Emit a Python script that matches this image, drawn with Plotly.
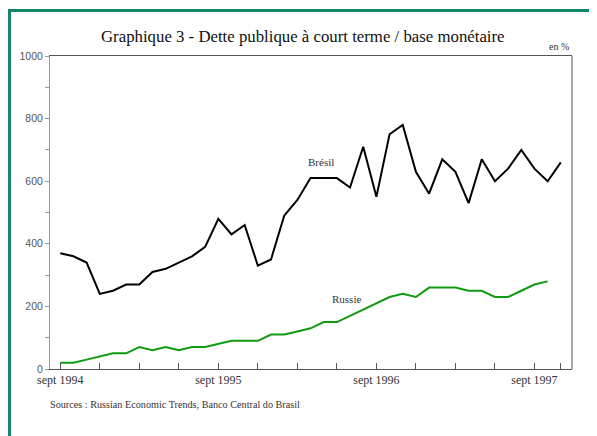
import plotly.graph_objects as go

# Monthly observations, Sep 1994 onward (index 0 = sept 1994)
months_bresil = list(range(39))   # Sep 1994 .. Nov 1997
bresil = [370, 360, 340, 240, 250, 270, 270, 310, 320, 340, 360, 390,
          480, 430, 460, 330, 350, 490, 540, 610, 610, 610, 580, 710,
          550, 750, 780, 630, 560, 670, 630, 530, 670, 600, 640, 700,
          640, 600, 660]
months_russie = list(range(38))   # Sep 1994 .. Oct 1997
russie = [20, 20, 30, 40, 50, 50, 70, 60, 70, 60, 70, 70,
          80, 90, 90, 90, 110, 110, 120, 130, 150, 150, 170, 190,
          210, 230, 240, 230, 260, 260, 260, 250, 250, 230, 230, 250,
          270, 280]

x_tickvals = [0, 3, 6, 9, 12, 15, 18, 21, 24, 27, 30, 33, 36, 38]
x_ticktext = ["sept 1994", "", "", "", "sept 1995", "", "", "", "sept 1996",
              "", "", "", "sept 1997", ""]

title = "Graphique 3 - Dette publique à court terme / base monétaire"
source = "Sources : Russian Economic Trends, Banco Central do Brasil"

OFF = 8  # page body margin
W, H = 597 - OFF, 436 - OFF
L, R, T, B = 50 - OFF, 572 - OFF, 56 - OFF, 369 - OFF


def px(x):
    return (x - OFF - L) / (R - L)


def py(y):
    return (B - (y - OFF)) / (B - T)


fig = go.Figure()
fig.add_trace(go.Scatter(x=months_bresil, y=bresil, mode="lines",
                         line=dict(color="#000000", width=2), name="Brésil",
                         showlegend=False))
fig.add_trace(go.Scatter(x=months_russie, y=russie, mode="lines",
                         line=dict(color="#109a10", width=2), name="Russie",
                         showlegend=False))

serif = "Liberation Serif, Times New Roman, serif"

fig.update_layout(
    width=W, height=H,
    margin=dict(l=L, r=W - R, t=T, b=H - B),
    paper_bgcolor="white", plot_bgcolor="white",
    showlegend=False,
    xaxis=dict(range=[-0.78, 38.85], tickvals=x_tickvals, ticktext=x_ticktext,
               ticks="inside", ticklen=6, tickcolor="#555555", tickwidth=1,
               showline=True, linecolor="#555555", linewidth=1, mirror=True,
               showgrid=False, zeroline=False,
               tickfont=dict(family=serif, size=12, color="#333333")),
    yaxis=dict(range=[0, 1000], dtick=200, ticks="outside", ticklen=4,
               tickcolor="#999999", showline=True, linecolor="#999999",
               linewidth=1, showgrid=False, zeroline=False,
               minor=dict(dtick=100, ticks="outside", ticklen=4,
                          tickcolor="#999999", showgrid=False),
               tickfont=dict(family="Liberation Sans, Arial, sans-serif",
                             size=10.5, color="#555555")),
)

# right frame line
fig.add_shape(type="line", xref="paper", yref="paper", x0=1, x1=1, y0=0, y1=1,
              line=dict(color="#555555", width=1))

# outer green border (open to right and bottom, as cropped)
bx = px(9.5)
by = py(10.5)
fig.add_shape(type="line", xref="paper", yref="paper", x0=bx, x1=bx,
              y0=py(445), y1=by, line=dict(color="#12856a", width=3))
fig.add_shape(type="line", xref="paper", yref="paper", x0=px(8), x1=px(605),
              y0=by, y1=by, line=dict(color="#12856a", width=3))

fig.add_annotation(text=title, xref="paper", yref="paper", x=px(303), y=py(36),
                   showarrow=False, xanchor="center", yanchor="middle",
                   font=dict(family=serif, size=16.8, color="#111111"))
fig.add_annotation(text="en %", xref="paper", yref="paper", x=px(571), y=py(47),
                   showarrow=False, xanchor="right", yanchor="middle",
                   font=dict(family=serif, size=10, color="#333333"))
fig.add_annotation(text=source, xref="paper", yref="paper", x=px(48), y=py(404),
                   showarrow=False, xanchor="left", yanchor="middle",
                   font=dict(family=serif, size=10.2, color="#333333"))
fig.add_annotation(text="Brésil", x=19.8, y=661, showarrow=False,
                   xanchor="center", yanchor="middle",
                   font=dict(family=serif, size=11, color="#333333"))
fig.add_annotation(text="Russie", x=21.7, y=224, showarrow=False,
                   xanchor="center", yanchor="middle",
                   font=dict(family=serif, size=11, color="#333333"))

fig.write_html("out.html")
